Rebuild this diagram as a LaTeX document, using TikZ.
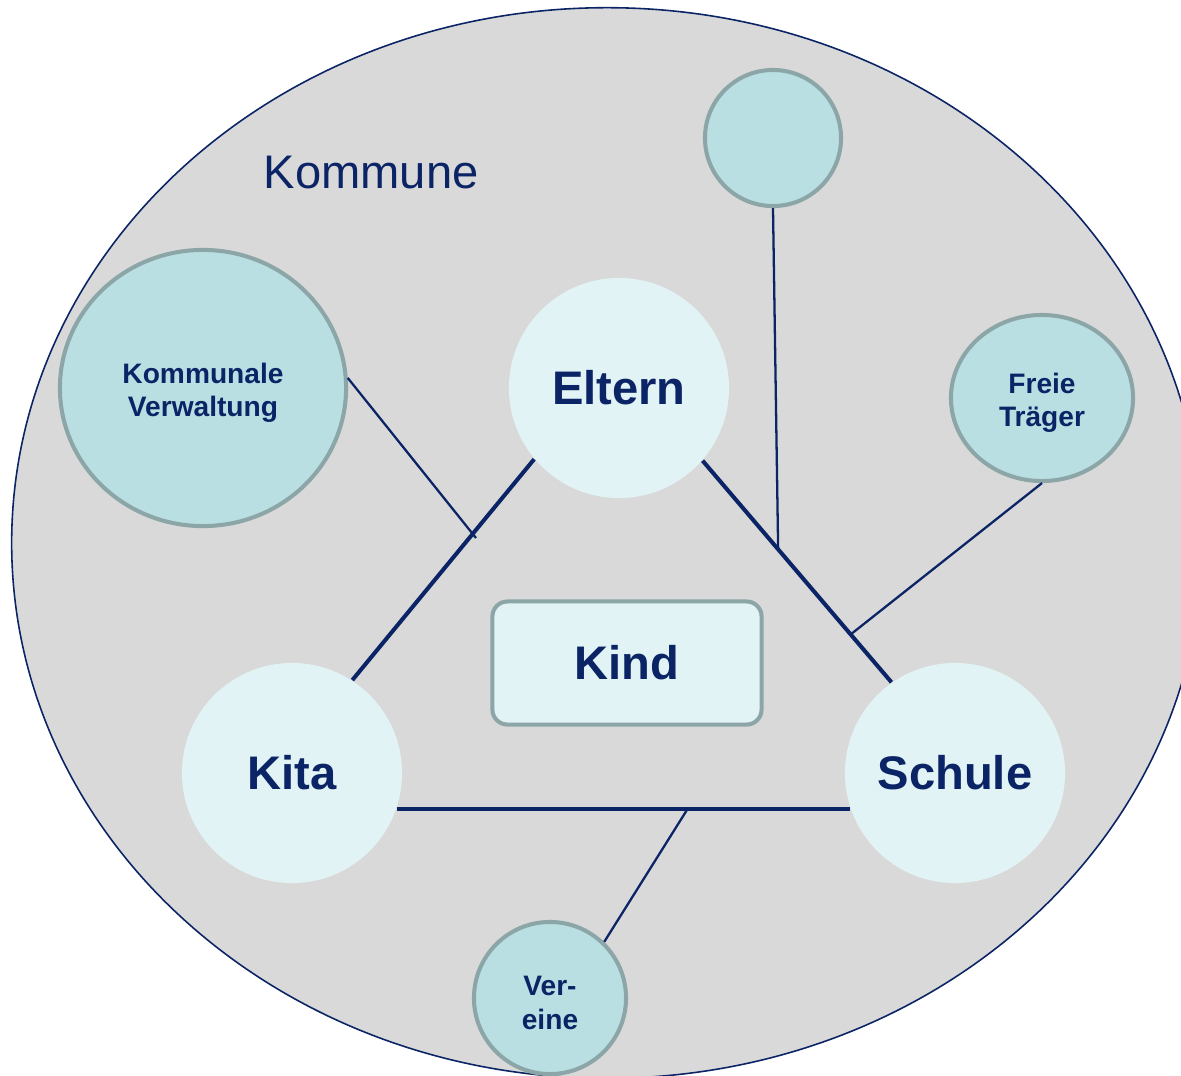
\documentclass[tikz,border=0pt]{standalone}
\usepackage{fontspec}
\setmainfont{Liberation Sans}
\usetikzlibrary{shapes.geometric,calc}
\definecolor{navy}{HTML}{0B2466}
\definecolor{bgrey}{HTML}{D9D9D9}
\definecolor{tealfill}{HTML}{B9DFE3}
\definecolor{tealedge}{HTML}{8CA6A8}
\definecolor{palefill}{HTML}{E2F3F5}
\tikzset{
  partner/.style={ellipse, draw=tealedge, fill=tealfill, line width=1.15pt, inner sep=0pt},
  partnertext/.style={text=navy, align=center, inner sep=0pt, yshift=-1.4pt,
    font=\bfseries\fontsize{8}{9.4}\selectfont},
  member/.style={circle, fill=palefill, inner sep=0pt, minimum size=2.2cm,
    text=navy, font=\bfseries\fontsize{13.4}{16}\selectfont},
  bond/.style={draw=navy, line width=1.15pt},
  link/.style={draw=navy, line width=0.65pt}
}
\begin{document}
\begin{tikzpicture}[x=0.01cm,y=-0.01cm]
	\useasboundingbox (0,0) rectangle (1181,1075);
	\clip (0,0) rectangle (1181,1075);
	\draw[navy, fill=bgrey, line width=0.45pt] (607,543) ellipse [x radius=5.95cm, y radius=5.35cm];
	\node[anchor=base west, inner sep=0pt, text=navy, font=\fontsize{13.4}{16}\selectfont] (kommune) at (263,188) {Kommune};
	\node[partner, minimum width=2.86cm, minimum height=2.76cm] (verwaltung) at (203,388) {};
	\node[partnertext] (verwaltungtext) at (verwaltung.center) {Kommunale\\Verwaltung};
	\node[partner, circle, minimum size=1.36cm] (upper) at (773,138) {};
	\node[partner, minimum width=1.82cm, minimum height=1.66cm] (traeger) at (1042,398) {};
	\node[partnertext] (traegertext) at (traeger.center) {Freie\\Tr\"ager};
	\node[partner, circle, minimum size=1.52cm] (vereine) at (550,998) {};
	\node[partnertext] (vereinetext) at (vereine.center) {Ver-\\eine};
	\node[member] (eltern) at (619,388) {Eltern};
	\node[member] (kita) at (292,773) {Kita};
	\node[member] (schule) at (955,773) {Schule};
	\node[rectangle, rounded corners=0.15cm, draw=tealedge, fill=palefill, line width=1.15pt,
		minimum width=2.69cm, minimum height=1.23cm, text=navy,
		font=\bfseries\fontsize{13.4}{16}\selectfont] (kind) at (627,663) {Kind};
	\draw[bond] (eltern.220.6) -- (kita.57.7);
	\draw[bond] (eltern.319.3) -- (schule.125.8);
	\draw[bond] (kita.341.9) -- (kita.341.9 -| schule.198.3);
	\coordinate (verwaltungfoot) at (476,538);
	\coordinate (upperfoot) at ($(eltern.319.3)!0.40!(schule.125.8)$);
	\coordinate (traegerfoot) at ($(eltern.319.3)!0.784!(schule.125.8)$);
	\coordinate (vereinefoot) at ($(kita.341.9)!0.642!(kita.341.9 -| schule.198.3)$);
	\draw[link] (verwaltung.4.3) -- (verwaltungfoot);
	\draw[link] (upper.south) -- (upperfoot);
	\draw[link] (traeger.south) -- (traegerfoot);
	\draw[link] (vereine.46) -- (vereinefoot);
\end{tikzpicture}
\end{document}
